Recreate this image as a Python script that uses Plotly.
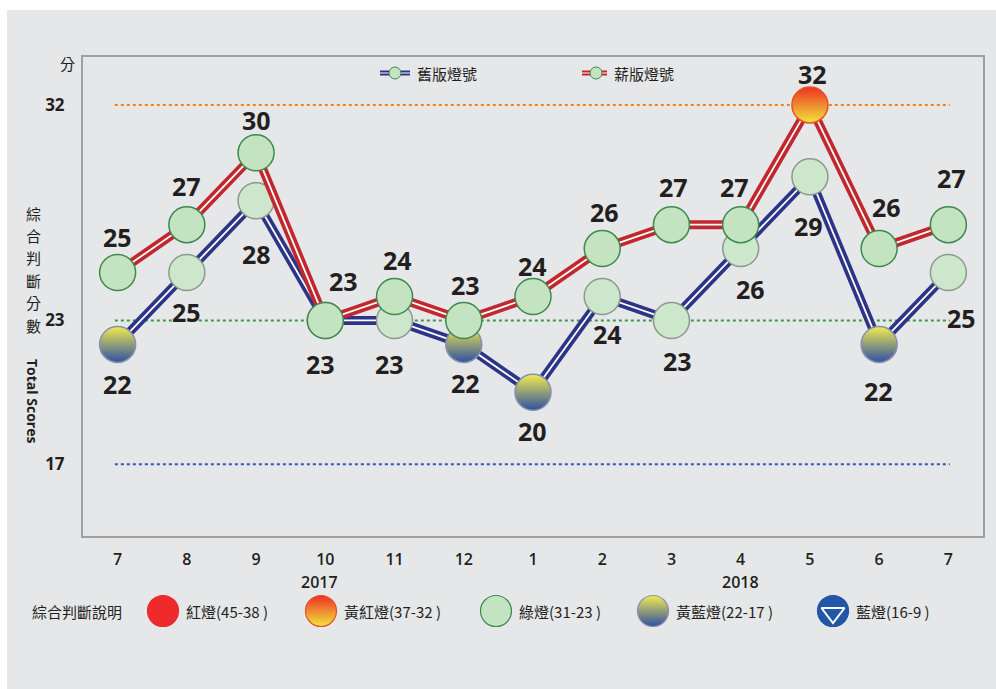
import plotly.graph_objects as go

# ---------------- data ----------------
months = ["7", "8", "9", "10", "11", "12", "1", "2", "3", "4", "5", "6", "7"]
old_scores = [22, 25, 28, 23, 23, 22, 20, 24, 23, 26, 29, 22, 25]   # 舊版燈號
new_scores = [25, 27, 30, 23, 24, 23, 24, 26, 27, 27, 32, 26, 27]   # 薪版燈號
thresholds = {"yellow_red": 32, "green": 23, "yellow_blue": 17}
y_ticks = [17, 23, 32]
years = [("2017", 2.92), ("2018", 9.0)]
legend_items = ["紅燈(45-38 )", "黃紅燈(37-32 )", "綠燈(31-23 )", "黃藍燈(22-17 )", "藍燈(16-9 )"]
legend_levels = [40, 33, 27, 20, 12]

# ---------------- styling / layout helpers ----------------
W, H = 996, 689
PX0, PX1, PY0, PY1 = 83, 983, 57, 536   # plot area in pixels
XR = [-0.5, 12.5]
YR = [14, 34]

BG = "#e6e7e9"
NAVY = "#2b3487"
RED = "#c1272d"
TXT = "#231f20"
FONT_NUM = "Open Sans"
FONT_CJK = "Noto Sans CJK TC"

def marker_style(v, old):
    # fill colour (top), gradient colour (bottom), gradient type, outline colour
    if v >= 38:
        return "#ee2a2a", "#ee2a2a", "none", "#ee2a2a"
    if v >= 32:
        return "#ee2f24", "#f0e63c", "vertical", "#e8502a"
    if v >= 23:
        if old:
            return "#cde7cc", "#cde7cc", "none", "#8c9a8c"
        return "#c4e4c1", "#c4e4c1", "none", "#3d8a4c"
    if v >= 17:
        return "#f3ec4e", "#2f4fa3", "vertical", "#8890b0"
    return "#2256a6", "#2256a6", "none", "#2256a6"

x_idx = list(range(len(months)))
fig = go.Figure()

def add_series(vals, color, old):
    fig.add_trace(go.Scatter(x=x_idx, y=vals, mode="lines",
                             line=dict(color=color, width=9), hoverinfo="skip", showlegend=False))
    fig.add_trace(go.Scatter(x=x_idx, y=vals, mode="lines",
                             line=dict(color="white", width=1.8), hoverinfo="skip", showlegend=False))
    styles = [marker_style(v, old) for v in vals]
    fig.add_trace(go.Scatter(
        x=x_idx, y=vals, mode="markers", showlegend=False, hoverinfo="skip",
        marker=dict(size=36, color=[s[0] for s in styles],
                    gradient=dict(color=[s[1] for s in styles], type=[s[2] for s in styles]),
                    line=dict(color=[s[3] for s in styles], width=1.5))))

add_series(old_scores, NAVY, True)
add_series(new_scores, RED, False)

annotations = []
# data labels (offsets in pixels)
new_off = [(0, 36), (0, 39), (0, 33), (18, 39), (3, 37), (2, 35), (-1, 31), (2, 37), (2, 38), (-6, 38), (3, 31), (7, 42), (3, 47)]
old_off = [(0, -40), (0, -39), (0, -53), (-5, -44), (-5, -44), (2, -39), (-1, -39), (5, -37), (6, -41), (10, -40), (-1, -49), (-1, -47), (13, -45)]
for vals, offs in [(new_scores, new_off), (old_scores, old_off)]:
    for i, v in enumerate(vals):
        annotations.append(dict(xref="x", yref="y", x=i, y=v, text=str(v), showarrow=False,
                                xanchor="center", yanchor="middle",
                                xshift=offs[i][0], yshift=offs[i][1],
                                font=dict(family=FONT_NUM, size=25, color=TXT, weight=700)))

def ptext(x, y, text, size=14, family=FONT_CJK, xanchor="center", weight=400, angle=0):
    annotations.append(dict(xref="x2", yref="y2", x=x, y=y, text=text, showarrow=False,
                            xanchor=xanchor, yanchor="middle", textangle=angle,
                            font=dict(family=family, size=size, color=TXT, weight=weight)))

shapes = [dict(type="rect", xref="paper", yref="paper",
               x0=7 / W, x1=1.01, y0=-0.01, y1=1 - 10 / H,
               fillcolor=BG, line=dict(width=0), layer="below")]
for key, col in [("yellow_red", "#f0821e"), ("green", "#3a9a48"), ("yellow_blue", "#3456b8")]:
    shapes.append(dict(type="line", xref="x", yref="y", x0=-0.04, x1=12.02,
                       y0=thresholds[key], y1=thresholds[key],
                       line=dict(color=col, width=2, dash="dot"), layer="below"))

# top legend (pixel overlay axes)
for x0p, x1p, mp, col, label in [(380, 410, 395, NAVY, "舊版燈號"), (582, 607, 596, RED, "薪版燈號")]:
    fig.add_trace(go.Scatter(x=[x0p, x1p], y=[73, 73], mode="lines", xaxis="x2", yaxis="y2",
                             line=dict(color=col, width=5), hoverinfo="skip", showlegend=False))
    fig.add_trace(go.Scatter(x=[x0p, x1p], y=[73, 73], mode="lines", xaxis="x2", yaxis="y2",
                             line=dict(color="white", width=1), hoverinfo="skip", showlegend=False))
    fig.add_trace(go.Scatter(x=[mp], y=[73], mode="markers", xaxis="x2", yaxis="y2",
                             hoverinfo="skip", showlegend=False,
                             marker=dict(size=12, color="#c4e4c1", line=dict(color="#3d8a4c", width=1))))
    ptext(x1p + 5, 73, label, size=15, xanchor="left")

# bottom legend
leg_centers = [163, 321, 496, 653, 833]
leg_styles = [marker_style(v, False) for v in legend_levels]
fig.add_trace(go.Scatter(
    x=leg_centers, y=[611] * 5, mode="markers", xaxis="x2", yaxis="y2",
    hoverinfo="skip", showlegend=False,
    marker=dict(size=31, color=[s[0] for s in leg_styles],
                gradient=dict(color=[s[1] for s in leg_styles], type=[s[2] for s in leg_styles]),
                line=dict(color=[s[3] for s in leg_styles], width=1.2))))
fig.add_trace(go.Scatter(x=[833], y=[613], mode="markers", xaxis="x2", yaxis="y2",
                         hoverinfo="skip", showlegend=False,
                         marker=dict(symbol="triangle-down-open", size=20, color="white",
                                     line=dict(width=2, color="white"))))
ptext(30, 611, "綜合判斷說明", size=15, xanchor="left")
for c, txt in zip(leg_centers, legend_items):
    ptext(c + 21, 611, txt, size=15, xanchor="left")

# years
for ytxt, xpos in years:
    annotations.append(dict(xref="x", yref="y2", x=xpos, y=582, text=ytxt, showarrow=False,
                            xanchor="center", yanchor="middle",
                            font=dict(family=FONT_NUM, size=16, color=TXT, weight=600)))

# y-axis unit and titles
ptext(67, 63, "分", size=15)
for k, ch in enumerate("綜合判斷分數"):
    ptext(33, 213 + 22.4 * k, ch, size=15)
ptext(33, 401, "Total Scores", size=14, family=FONT_NUM, weight=700, angle=90)

fig.update_layout(
    width=W, height=H, margin=dict(l=0, r=0, t=0, b=0, pad=0),
    paper_bgcolor="white", plot_bgcolor="rgba(0,0,0,0)",
    shapes=shapes, annotations=annotations, showlegend=False,
    xaxis=dict(domain=[PX0 / W, PX1 / W], range=XR, tickmode="array", tickvals=x_idx, ticktext=months,
               showgrid=False, zeroline=False, showline=True, mirror=True, linecolor="#a0a0a0", linewidth=2,
               ticks="", ticklabelstandoff=8, anchor="y",
               tickfont=dict(family=FONT_NUM, size=16, color=TXT, weight=600), fixedrange=True),
    yaxis=dict(domain=[(H - PY1) / H, (H - PY0) / H], range=YR, tickmode="array", tickvals=y_ticks,
               ticktext=[str(v) for v in y_ticks], anchor="x",
               showgrid=False, zeroline=False, showline=True, mirror=True, linecolor="#a0a0a0", linewidth=2,
               ticks="", ticklabelstandoff=13,
               tickfont=dict(family=FONT_NUM, size=17, color=TXT, weight=700), fixedrange=True),
    xaxis2=dict(domain=[0, 1], range=[0, W], visible=False, anchor="y2", fixedrange=True),
    yaxis2=dict(domain=[0, 1], range=[H, 0], visible=False, anchor="x2", fixedrange=True),
)

fig.write_html("out.html", config={"displayModeBar": False},
               post_script="document.body.style.margin='0px';")
